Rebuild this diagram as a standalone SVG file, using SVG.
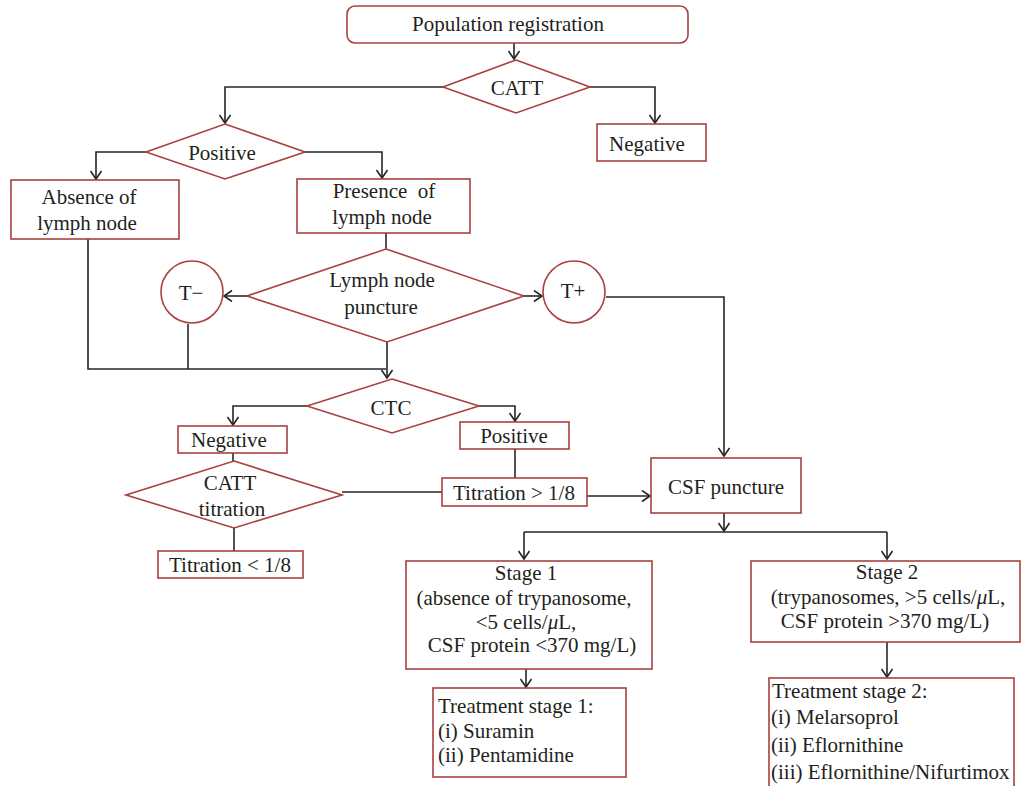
<svg xmlns="http://www.w3.org/2000/svg" width="1022" height="786" viewBox="0 0 1022 786">
<style>
.n{fill:#fff;stroke:#a8403f;stroke-width:1.6}
.t{font-family:"Liberation Serif",serif;font-size:21px;fill:#231f20}
.c{text-anchor:middle}
.e{fill:none;stroke:#262626;stroke-width:1.6}
</style>
<defs>
<marker id="a" markerUnits="userSpaceOnUse" markerWidth="14" markerHeight="14" refX="9" refY="6" orient="auto">
<path d="M1,0.5 L9,6 L1,11.5" fill="none" stroke="#262626" stroke-width="1.6"/>
</marker>
</defs>
<rect width="1022" height="786" fill="#fff"/>
<g id="connectors">
<path class="e" d="M514,43 V59" marker-end="url(#a)"/>
<path class="e" d="M443,87 H225 V123" marker-end="url(#a)"/>
<path class="e" d="M590,87 H655 V123" marker-end="url(#a)"/>
<path class="e" d="M146,152 H96 V179" marker-end="url(#a)"/>
<path class="e" d="M305,152 H382 V178" marker-end="url(#a)"/>
<path class="e" d="M88,239 V369 H386"/>
<path class="e" d="M188,324 V369"/>
<path class="e" d="M386,233 V249"/>
<path class="e" d="M247,296 H224" marker-end="url(#a)"/>
<path class="e" d="M524,296 H542" marker-end="url(#a)"/>
<path class="e" d="M606,297 H724 V456" marker-end="url(#a)"/>
<path class="e" d="M387,342 V378" marker-end="url(#a)"/>
<path class="e" d="M307,406 H233 V425" marker-end="url(#a)"/>
<path class="e" d="M479,406 H515 V421" marker-end="url(#a)"/>
<path class="e" d="M233,453 V461"/>
<path class="e" d="M342,492 H442"/>
<path class="e" d="M515,449 V478"/>
<path class="e" d="M587,496 H650" marker-end="url(#a)"/>
<path class="e" d="M234,528 V551"/>
<path class="e" d="M724,513 V531" marker-end="url(#a)"/>
<path class="e" d="M524,532 H887"/>
<path class="e" d="M524,532 V559" marker-end="url(#a)"/>
<path class="e" d="M887,532 V559" marker-end="url(#a)"/>
<path class="e" d="M526,669 V687" marker-end="url(#a)"/>
<path class="e" d="M887,642 V677" marker-end="url(#a)"/>
</g>
<g id="population">
<rect class="n" x="347" y="6" width="341" height="37" rx="8"/>
<text class="t c" x="508" y="31">Population registration</text>
</g>
<g id="catt">
<polygon class="n" points="516,60 590,87 516,113 443,87"/>
<text class="t c" x="517" y="95">CATT</text>
</g>
<g id="negative1">
<rect class="n" x="597" y="124" width="109" height="37"/>
<text class="t c" x="647" y="151">Negative</text>
</g>
<g id="positive1">
<polygon class="n" points="225,124 305,152 225,179 146,152"/>
<text class="t c" x="222" y="160">Positive</text>
</g>
<g id="absence">
<rect class="n" x="11" y="180" width="168" height="59"/>
<text class="t c" x="89" y="204">Absence of</text>
<text class="t c" x="87" y="230">lymph node</text>
</g>
<g id="presence">
<rect class="n" x="297" y="179" width="173" height="54"/>
<text class="t c" x="384" y="198" xml:space="preserve">Presence  of</text>
<text class="t c" x="382" y="224">lymph node</text>
</g>
<g id="lymphpuncture">
<polygon class="n" points="386,249 524,296 387,342 247,296"/>
<text class="t c" x="382" y="287">Lymph node</text>
<text class="t c" x="381" y="314">puncture</text>
</g>
<g id="tminus">
<circle class="n" cx="192" cy="292" r="31"/>
<text class="t c" x="191" y="300">T−</text>
</g>
<g id="tplus">
<circle class="n" cx="574" cy="292" r="31"/>
<text class="t c" x="573" y="298">T+</text>
</g>
<g id="ctc">
<polygon class="n" points="392,379 479,406 392,433 307,406"/>
<text class="t c" x="391" y="415">CTC</text>
</g>
<g id="negative2">
<rect class="n" x="178" y="426" width="109" height="27"/>
<text class="t c" x="229" y="447">Negative</text>
</g>
<g id="positive2">
<rect class="n" x="460" y="422" width="109" height="27"/>
<text class="t c" x="514" y="443">Positive</text>
</g>
<g id="catttitration">
<polygon class="n" points="234,461 342,495 234,528 126,495"/>
<text class="t c" x="230" y="490">CATT</text>
<text class="t c" x="232" y="516">titration</text>
</g>
<g id="titrationgt">
<rect class="n" x="442" y="478" width="145" height="28"/>
<text class="t c" x="514" y="500">Titration &gt; 1/8</text>
</g>
<g id="csf">
<rect class="n" x="651" y="458" width="150" height="55"/>
<text class="t c" x="726" y="494">CSF puncture</text>
</g>
<g id="titrationlt">
<rect class="n" x="158" y="551" width="145" height="27"/>
<text class="t c" x="230" y="572">Titration &lt; 1/8</text>
</g>
<g id="stage1">
<rect class="n" x="406" y="561" width="246" height="108"/>
<text class="t c" x="526" y="580">Stage 1</text>
<text class="t c" x="524" y="605">(absence of trypanosome,</text>
<text class="t c" x="526" y="629">&lt;5 cells/<tspan font-style="italic">μ</tspan>L,</text>
<text class="t c" x="532" y="652">CSF protein &lt;370 mg/L)</text>
</g>
<g id="stage2">
<rect class="n" x="751" y="561" width="269" height="81"/>
<text class="t c" x="887" y="579">Stage 2</text>
<text class="t c" x="888" y="604">(trypanosomes, &gt;5 cells/<tspan font-style="italic">μ</tspan>L,</text>
<text class="t c" x="885" y="628">CSF protein &gt;370 mg/L)</text>
</g>
<g id="treatment1">
<rect class="n" x="433" y="688" width="193" height="89"/>
<text class="t" x="438" y="713">Treatment stage 1:</text>
<text class="t" x="438" y="738">(i) Suramin</text>
<text class="t" x="438" y="762">(ii) Pentamidine</text>
</g>
<g id="treatment2">
<rect class="n" x="769" y="678" width="245" height="120"/>
<text class="t" x="772" y="698">Treatment stage 2:</text>
<text class="t" x="771" y="724">(i) Melarsoprol</text>
<text class="t" x="771" y="752">(ii) Eflornithine</text>
<text class="t" x="771" y="779">(iii) Eflornithine/Nifurtimox</text>
</g>
</svg>
